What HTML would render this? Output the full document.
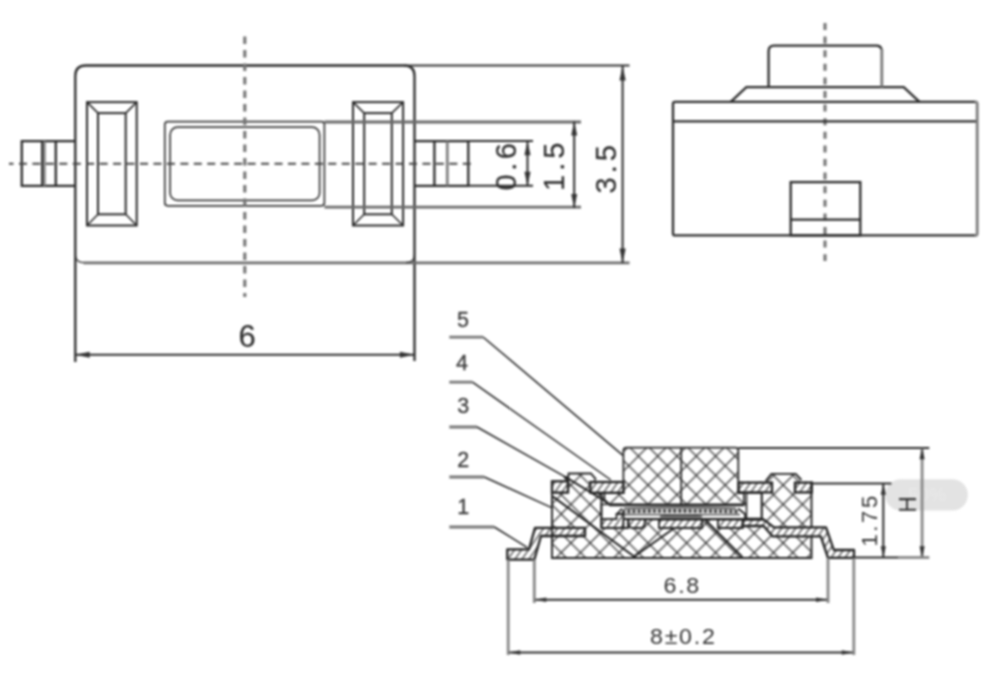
<!DOCTYPE html>
<html><head><meta charset="utf-8"><title>Tact switch drawing</title>
<style>
html,body{margin:0;padding:0;background:#fff;width:1000px;height:700px;overflow:hidden}
svg{display:block;font-family:"Liberation Sans",sans-serif;filter:blur(0.9px)}
</style></head>
<body>
<svg width="1000" height="700" viewBox="0 0 1000 700">
<defs>
<pattern id="xh" patternUnits="userSpaceOnUse" width="19.3" height="19.3" x="1.5" y="12.2">
<path d="M-2,-2 L21.3,21.3 M-2,21.3 L21.3,-2 M-2,17.3 L2,21.3 M17.3,-2 L21.3,2 M-2,2 L2,-2 M17.3,21.3 L21.3,17.3" stroke="#333" stroke-width="1.25" fill="none"/>
</pattern>
<pattern id="th" patternUnits="userSpaceOnUse" width="7" height="20" patternTransform="skewX(-35)">
<rect width="7" height="20" fill="#fff"/>
<path d="M3.5,-1 V21" stroke="#3a3a3a" stroke-width="1.5" fill="none"/>
</pattern>
<pattern id="xh2" patternUnits="userSpaceOnUse" width="19.3" height="19.3" x="1.5" y="12.2">
<path d="M-2,-2 L21.3,21.3 M-2,21.3 L21.3,-2 M-2,17.3 L2,21.3 M17.3,-2 L21.3,2 M-2,2 L2,-2 M17.3,21.3 L21.3,17.3" stroke="#333" stroke-width="1.25" fill="none"/>
</pattern>
</defs>

<!-- ================= TOP VIEW ================= -->
<g fill="none" stroke="#2a2a2a" stroke-width="2.3">
<!-- body -->
<path d="M75.3,362 V76 Q75.3,65.5 85.8,65.5 H404 Q414.5,65.5 414.5,76 V361"/>
<!-- left pin -->
<path d="M75.2,141.1 H21.8 V185.9 H75.2"/>
<path d="M42.2,141.1 V185.9 M55.8,141.1 V185.9"/>
<!-- right pin -->
<path d="M414.4,141.1 H468.3 V185.9 H414.4"/>
<path d="M434.4,141.1 V185.9"/>
<!-- left slot -->
<rect x="87" y="102.1" width="49.7" height="123.4" stroke-width="2"/>
<rect x="98" y="113.1" width="27.7" height="101.2" stroke-width="2"/>
<path d="M87,102.1 L98,113.1 M136.7,102.1 L125.7,113.1 M87,225.5 L98,214.3 M136.7,225.5 L125.7,214.3" stroke-width="1.6"/>
<!-- right slot -->
<rect x="353" y="102.1" width="50.1" height="123.4" stroke-width="2"/>
<rect x="364.2" y="113.1" width="27.6" height="101.2" stroke-width="2"/>
<path d="M353,102.1 L364.2,113.1 M403.1,102.1 L391.8,113.1 M353,225.5 L364.2,214.3 M403.1,225.5 L391.8,214.3" stroke-width="1.6"/>
<!-- center slot -->
<rect x="164.8" y="121.6" width="159.6" height="84.2" rx="3" ry="3" stroke-width="1.7" stroke="#383838"/>
<rect x="170.1" y="127.2" width="149.5" height="73.2" rx="7.5" ry="7.5" stroke-width="1.7" stroke="#383838"/>
</g>
<g fill="none" stroke="#808080" stroke-width="2.8">
<path d="M44.3,141.1 V185.9"/>
<path d="M447.3,141.1 V185.9"/>
</g>
<!-- centerlines -->
<g fill="none" stroke="#444" stroke-width="2">
<path d="M9,163.7 H472" stroke-dasharray="8 5.45" stroke-dashoffset="3.5"/>
</g>
<g fill="none" stroke="#747474" stroke-width="3.1">
<path d="M244.8,36.5 V297" stroke-dasharray="7.5 6"/>
<path d="M825,23 V261" stroke-dasharray="7 6.6"/>
</g>

<!-- dimension/extension lines top view -->
<g fill="none" stroke="#6a6a6a" stroke-width="2.8">
<path d="M324.4,122 H581"/>
<path d="M324.4,207.2 H581"/>
</g>
<g fill="none" stroke="#333" stroke-width="2.2">
<path d="M404,65.5 H629.5"/>
</g>
<g fill="none" stroke="#6e6e6e" stroke-width="2.8">
<path d="M83.5,262.9 H629.5"/>
</g>
<g fill="none" stroke="#333" stroke-width="1.3">
<path d="M75.3,254.5 Q75.5,262.6 83.8,262.6 M414.5,254.5 Q414.3,262.6 406,262.6"/>
</g>
<g fill="none" stroke="#2a2a2a" stroke-width="2">
<path d="M468.3,141.1 H533 M468.3,185.8 H533"/>
<path d="M527.5,141.5 V185.5"/>
<path d="M574.2,121.5 V208"/>
<path d="M622.6,66 V263"/>

<path d="M75.2,354.7 H414.4"/>
</g>
<g fill="#333" stroke="none">
<path d="M527.5,141.3 l-3.1,14 h6.2z M527.5,185.7 l-3.1,-14 h6.2z"/>
<path d="M574.2,121.6 l-3,14 h6z M574.2,208 l-3,-14 h6z"/>
<path d="M622.6,65.9 l-3.1,14.5 h6.2z M622.6,263 l-3.1,-14.5 h6.2z"/>
<path d="M75.2,354.7 l14.5,-3 v6z M414.4,354.7 l-14.5,-3 v6z"/>
</g>
<g fill="#2a2a2a" font-size="29" stroke="#2a2a2a" stroke-width="0.15">
<text x="247" y="347" text-anchor="middle" font-size="31">6</text>
<text transform="translate(516,190.5) rotate(-90)" letter-spacing="3.5">0.6</text>
<text transform="translate(564,191) rotate(-90)" letter-spacing="4">1.5</text>
<text transform="translate(615.5,193.5) rotate(-90)" letter-spacing="4">3.5</text>
</g>

<!-- ================= SIDE VIEW ================= -->
<g fill="none" stroke="#2a2a2a" stroke-width="2.3">
<path d="M975.2,101.8 H675 Q673,101.8 673,103.8 V233.4 Q673,235.4 675,235.4 H975.2"/>
<path d="M673,121.3 H977.2"/>
<path d="M730.7,101.8 L746.4,87.2 H903.7 L919.5,101.8"/>
<path d="M768.6,87.2 V51 Q768.6,45.6 774,45.6 H876.6 Q880.5,45.6 881.5,49"/>
<rect x="790.7" y="182.1" width="69.6" height="53.3"/>
<path d="M790.7,219.7 H860.3"/>
</g>
<g fill="none" stroke="#7a7a7a" stroke-width="2.8">
<path d="M975.2,101.8 Q977.2,101.8 977.2,103.8 V233.4 Q977.2,235.4 975.2,235.4"/>
<path d="M881.8,49 V87.2"/>
</g>


<!-- ================= SECTION VIEW ================= -->
<!-- pill overlay -->
<rect x="885.2" y="479.3" width="82.6" height="31.3" rx="15.6" ry="15.6" fill="#e3e3e3"/>
<text x="908" y="501" font-size="19" fill="#e9e9e9">50%</text>
<!-- housing crosshatch -->
<path fill="url(#xh)" stroke="none" d="M551.5,481.5 H568 L568.6,473.5 H590.9 L596,479.4 V481.5 H765.7 L771.4,473.9 H795.7 L801.4,480 V481.5 H811.5 V558 H551.5 Z"/>
<!-- actuator -->
<path fill="#fff" stroke="none" d="M604.4,493 H623.4 V450.5 Q623.4,447.6 626.4,447.6 H735.3 Q738.3,447.6 738.3,450.5 V493 H744 V504.4 H609.1 L604.4,500.8 Z"/>
<path fill="url(#xh2)" stroke="#2a2a2a" stroke-width="1.8" d="M604.4,493 H623.4 V450.5 Q623.4,447.6 626.4,447.6 H735.3 Q738.3,447.6 738.3,450.5 V493 H744 V504.4 H609.1 L604.4,500.8 Z"/>
<path d="M681.2,448 V504.4" stroke="#2a2a2a" stroke-width="1.8" fill="none"/>
<!-- cavities -->
<g fill="#fff" stroke="#2a2a2a" stroke-width="1.6">
<rect x="601.4" y="504.4" width="20" height="15"/>
<rect x="746.5" y="493" width="15.2" height="25.5"/>
</g>
<!-- dome band -->
<g fill="none">
<rect x="617" y="505.5" width="128" height="14" fill="#fff" stroke="none"/>
<path d="M609,505.2 H744" stroke="#222" stroke-width="2"/>
<path d="M624,508.4 Q680,506.8 736,508.4" stroke="#333" stroke-width="1.5"/>
<path d="M622,511.6 Q680,510.2 738,511.6" stroke="#444" stroke-width="3.6" stroke-dasharray="3.5 1.6"/>
<path d="M620,514.6 H740" stroke="#333" stroke-width="1.4"/>
<path d="M660,516.5 Q681,514 702,516.5 Z" fill="#555" stroke="#555" stroke-width="2"/>
<path d="M616,519.2 H761.7" stroke="#222" stroke-width="2.2"/>
<path d="M622,508.5 L617,514 V519 M738,508.5 L745,514 V519" stroke="#222" stroke-width="1.8"/>
</g>
<!-- contacts row -->
<g stroke="#222" stroke-width="1.8">
<path fill="url(#th)" d="M601.4,519.2 H616.5 V514 H623.5 V528 H601.4 Z"/>
<path fill="#fff" d="M623.5,519 H628 V528 H623.5 Z"/>
<path fill="url(#th)" d="M628.6,519 H644.7 V524 Q644.7,528 640.7,528 H632.6 Q628.6,528 628.6,524 Z"/>
<path fill="url(#th)" d="M659,519.5 H702 V528 H659 Z"/>
<path fill="url(#th)" d="M718,519.5 H742.8 V528 H718 Z"/>
</g>
<!-- leads -->
<g stroke="#222" stroke-width="2.3" stroke-linejoin="round">
<path fill="url(#th)" d="M507.3,549.3 H529 L535,527.9 H585 V536 H541 L534.3,559.6 H507.3 Z"/>
<path fill="url(#th)" d="M742.8,519.5 H763.6 L774,527.3 H826 L833.8,550 H854 V557.9 H828 L820.8,536.4 H772.7 L763.6,526 H742.8 Z"/>
</g>
<!-- cover pieces -->
<g stroke="#222" stroke-width="2.3" fill="url(#th)">
<rect x="552" y="481.3" width="16" height="11.3"/>
<rect x="590.3" y="482" width="33.1" height="10.8"/>
<rect x="738.6" y="482.6" width="33.4" height="9.8"/>
<rect x="795" y="482.6" width="16.8" height="9.8"/>
</g>
<!-- housing outlines -->
<g fill="none" stroke="#222" stroke-width="1.9">
<path d="M552,481.3 V558 H811.5 V536.4 M811.5,527.3 V481.5"/>
<path d="M568,481.3 L568.6,473.5 H590.9 L596,479.4"/>
<path d="M765.7,481 L771.4,473.9 H795.7 L801.4,480"/>
<path d="M601.4,492.8 V528"/>
<path d="M761.7,492.5 V519.5"/>
<path d="M552,528 H585 M552,536 H585"/>
</g>
<g fill="none" stroke="#1e1e1e" stroke-width="2">
<path d="M553,496.6 L634.1,556.5 L673,529"/>
<path d="M705.4,520 L742.3,557"/>
<path d="M565.7,477.1 L608,503"/>
</g>
<path d="M563,476 L568.5,476.5 L566,481 Z" fill="#222"/>
<!-- leaders -->
<g fill="none" stroke="#777" stroke-width="2.8">
<path d="M449.3,337.2 H483.3 M449.3,382.1 H472.5 M449.3,427 H477 M449.3,477 H484.3 M449.3,527 H494.3"/>
</g>
<g fill="none" stroke="#1e1e1e" stroke-width="1.5">
<path d="M483.3,337.2 L622.9,455.4"/>
<path d="M472.5,382.1 L610.9,480"/>
<path d="M477,427 L565.7,477.1"/>
<path d="M484.3,477 L551,507.4"/>
<path d="M494.3,527 L527.4,547.6"/>
</g>
<g fill="#3a3a3a" font-size="21.5" stroke="#3a3a3a" stroke-width="0.3">
<text x="457" y="327">5</text>
<text x="456" y="369.8">4</text>
<text x="457.2" y="412.6">3</text>
<text x="457.2" y="466.8">2</text>
<text x="457.2" y="514">1</text>
</g>
<!-- section dims -->
<g fill="none" stroke="#2a2a2a" stroke-width="2">
<path d="M738.3,448 H929.3"/>
<path d="M811.5,483.6 H891.4"/>
<path d="M854,557.5 H898"/>
<path d="M883.3,484 V557"/>

<path d="M534.3,599.7 H828 M508.2,652.5 H853.8"/>
</g>
<g fill="none" stroke="#888" stroke-width="2.8">
<path d="M534.3,559.6 V603 M828,558 V603"/>
<path d="M508.2,559.6 V655 M853.8,558 V655"/>
<path d="M898,557.5 H929.3"/>
<path d="M922.1,448.5 V557"/>
</g>
<g fill="#333">
<path d="M883.3,483.8 l-2.6,11 h5.2z M883.3,557.2 l-2.6,-11 h5.2z"/>
<path d="M922.1,448.2 l-2.6,11 h5.2z M922.1,557.2 l-2.6,-11 h5.2z"/>
<path d="M534.3,599.7 l12,-2.3 v4.6z M828,599.7 l-12,-2.3 v4.6z"/>
<path d="M508.2,652.5 l12,-2.3 v4.6z M853.8,652.5 l-12,-2.3 v4.6z"/>
</g>
<g fill="#333" font-size="20">
<text transform="translate(663.5,593.3) scale(1.08,1)" font-size="21.5" letter-spacing="1.6">6.8</text>
<text transform="translate(650,643.8) scale(1.08,1)" font-size="21.5" letter-spacing="1.6">8±0.2</text>
<text transform="translate(876.8,546.5) rotate(-90)" font-size="22" letter-spacing="2.6">1.75</text>
<text transform="translate(915.8,512.8) rotate(-90)" font-size="23">H</text>
</g>

</svg>
</body></html>
